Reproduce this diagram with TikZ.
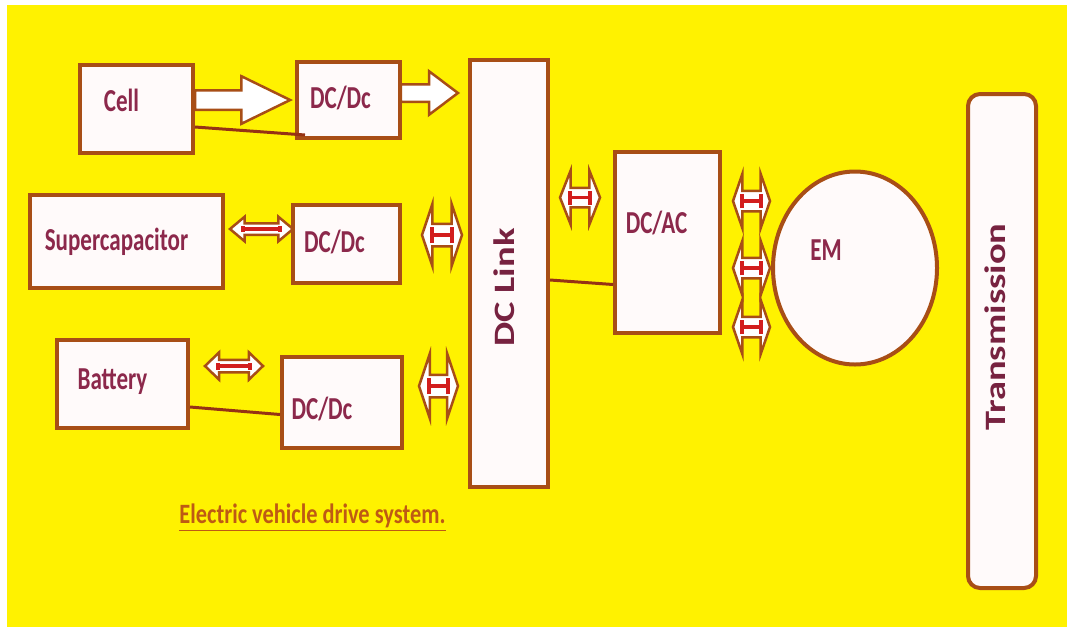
\documentclass[tikz,border=0pt]{standalone}
\usepackage{fontspec}
\usetikzlibrary{shapes.arrows,shapes.geometric,calc}
\newfontfamily\lblfont[FakeStretch=0.72]{Carlito}
\newfontfamily\vlblfont[FakeStretch=1.3]{Carlito}
\newfontfamily\capfont[FakeStretch=0.8]{Carlito}
\definecolor{bgyellow}{RGB}{255,242,0}
\definecolor{rimbrown}{RGB}{168,78,22}
\definecolor{txtmaroon}{RGB}{140,40,75}
\definecolor{wirered}{RGB}{150,50,20}
\definecolor{hred}{RGB}{210,30,30}
\definecolor{capbrown}{RGB}{190,90,20}
\definecolor{boxwhite}{RGB}{255,250,250}
\tikzset{
  blk/.style={draw=rimbrown, line width=2pt, fill=boxwhite, inner sep=0pt},
  lbl/.style={text=txtmaroon, font=\lblfont\bfseries\fontsize{16}{18}\selectfont, inner sep=0pt},
  vlbl/.style={text=txtmaroon!85!black, font=\vlblfont\bfseries\fontsize{14.8}{18}\selectfont, inner sep=0pt, rotate=90},
  wire/.style={draw=wirered, line width=1.5pt},
  flow/.style={single arrow, draw=rimbrown, line width=1.25pt, fill=white, inner xsep=0pt, anchor=tip},
  swap/.style={double arrow, draw=rimbrown, line width=1.25pt, fill=white, inner xsep=0pt},
  hmark/.style={draw=hred, line width=1.6pt}
}
% red H inside a two-way arrow: node, half length, half height
\newcommand\hmarkon[3]{%
  \draw[hmark] ([xshift=-#2]#1.center) -- ([xshift=#2]#1.center)
    ([xshift=-#2,yshift=-#3]#1.center) -- ([xshift=-#2,yshift=#3]#1.center)
    ([xshift=#2,yshift=-#3]#1.center) -- ([xshift=#2,yshift=#3]#1.center);}
\begin{document}
\begin{tikzpicture}[x=0.5pt,y=-0.5pt]
    % page and yellow background
    \fill[white] (0,0) rectangle (1069,632);
    \fill[bgyellow] (7,5) rectangle (1067,627);

    % sources
    \node[blk, minimum width=56.5pt, minimum height=44pt, label={[lbl,xshift=-7.5pt,yshift=4.5pt]center:Cell}] (cell) at (136.5,109) {};
    \node[blk, minimum width=96.5pt, minimum height=46.5pt, label={[lbl,xshift=-5pt]center:Supercapacitor}] (supcap) at (126.5,241.5) {};
    \node[blk, minimum width=65.5pt, minimum height=44pt, label={[lbl,xshift=-5pt,yshift=1pt]center:Battery}] (batt) at (122.5,384) {};

    % converters
    \node[blk, minimum width=51.5pt, minimum height=38pt, label={[lbl,xshift=-4pt,yshift=1pt]center:DC/Dc}] (dctop) at (348.5,100) {};
    \node[blk, minimum width=53.5pt, minimum height=39pt, label={[lbl,xshift=-6pt,yshift=1pt]center:DC/Dc}] (dcmid) at (346.5,244) {};
    \node[blk, minimum width=60pt, minimum height=45.5pt, label={[lbl,xshift=-10pt,yshift=-3pt]center:DC/Dc}] (dcbot) at (342,402.5) {};

    % link, inverter, machine, transmission
    \node[blk, minimum width=39pt, minimum height=213.5pt, label={[xshift=-2.5pt,yshift=-7pt,vlbl]center:DC Link}] (dclink) at (509,273.5) {};
    \node[blk, minimum width=52.5pt, minimum height=90.5pt, label={[lbl,xshift=-5.5pt,yshift=10pt]center:DC/AC}] (dcac) at (667.5,242.5) {};
    \node[blk, ellipse, minimum width=82pt, minimum height=96.5pt, label={[lbl,xshift=-14.5pt,yshift=9pt]center:EM}] (em) at (855,268) {};
    \node[blk, rounded corners=6pt, minimum width=34pt, minimum height=247pt, label={[xshift=-3.5pt,yshift=7pt,vlbl]center:Transmission}] (trans) at (1002,341) {};

    % wires
    \draw[wire] ($(cell.east)+(0,18)$) -- ($(dctop.south west)+(10,-5)$);
    \draw[wire] ($(batt.east)+(0,23)$) -- ($(dcbot.west)+(0,12)$);
    \draw[wire] ($(dclink.east)+(0,6.5)$) -- ($(dcac.west)+(0,42)$);

    % one-way flows
    \node[flow, inner ysep=4.25pt, minimum height=47.5pt, minimum width=22.5pt, single arrow head extend=7pt, single arrow tip angle=52] (fcell) at (293,100) {};
    \node[flow, inner ysep=3.75pt, minimum height=28.5pt, minimum width=20.5pt, single arrow head extend=6.5pt, single arrow tip angle=74] (ftop) at (460,93) {};

    % two-way flows
    \node[swap, inner ysep=2.25pt, minimum height=31.5pt, minimum width=11pt, double arrow head extend=3.25pt, double arrow tip angle=80] (wsup) at (261.5,229) {};
    \node[swap, inner ysep=2.5pt, minimum height=29pt, minimum width=12.5pt, double arrow head extend=3.75pt, double arrow tip angle=88] (wbat) at (234,366) {};
    \node[swap, inner ysep=5pt, minimum height=20pt, minimum width=30pt, double arrow head extend=10pt, double arrow tip angle=143] (wmid) at (442,235) {};
    \node[swap, inner ysep=5pt, minimum height=19.5pt, minimum width=31pt, double arrow head extend=10.5pt, double arrow tip angle=143] (wbot) at (438.5,386) {};
    \node[swap, inner ysep=4.25pt, minimum height=20pt, minimum width=25.5pt, double arrow head extend=8.5pt, double arrow tip angle=137] (wac) at (580,197.5) {};
    \foreach \yy [count=\i] in {201,268,327}
        \node[swap, inner ysep=4.5pt, minimum height=18.5pt, minimum width=26pt, double arrow head extend=8.5pt, double arrow tip angle=142] (wem\i) at (751.5,\yy) {};

    \hmarkon{wsup}{9.25pt}{1.5pt}
    \hmarkon{wbat}{8pt}{1.75pt}
    \hmarkon{wmid}{5pt}{4pt}
    \hmarkon{wbot}{4.75pt}{4pt}
    \hmarkon{wac}{5pt}{3.5pt}
    \foreach \i in {1,2,3}{
        \hmarkon{wem\i}{4.75pt}{3.5pt}
    }

    % caption
    \node[font=\capfont\bfseries\fontsize{14}{16}\selectfont, text=capbrown, anchor=base, inner sep=0pt] (caption) at (312.5,523) {\underline{Electric vehicle drive system.}};
\end{tikzpicture}
\end{document}
